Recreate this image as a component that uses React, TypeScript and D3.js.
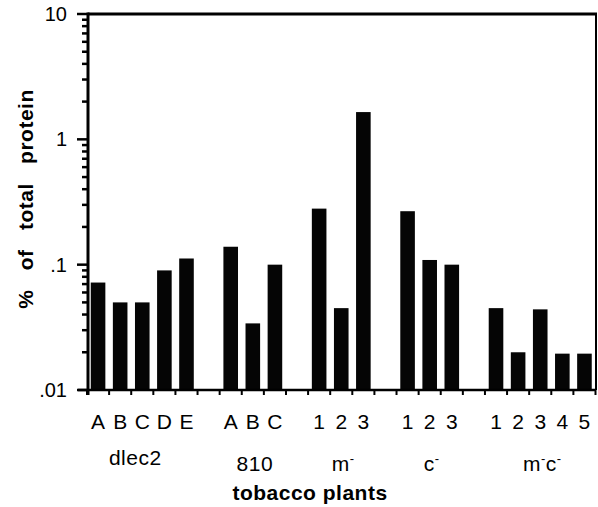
import React, { useEffect, useRef } from 'react';
import * as d3 from 'd3';

// groups of tobacco plants, bar labels and values (% of total protein)
const groupNames = ['dlec2', '810', 'm', 'c', 'mc'];
const dlec2Labels = ['A', 'B', 'C', 'D', 'E'];
const dlec2Values = [0.072, 0.05, 0.05, 0.09, 0.112];
const p810Labels = ['A', 'B', 'C'];
const p810Values = [0.139, 0.034, 0.1];
const mLabels = ['1', '2', '3'];
const mValues = [0.28, 0.045, 1.65];
const cLabels = ['1', '2', '3'];
const cValues = [0.267, 0.109, 0.1];
const mcLabels = ['1', '2', '3', '4', '5'];
const mcValues = [0.045, 0.02, 0.044, 0.0195, 0.0195];
const yTickValues = [0.01, 0.1, 1, 10];
const yTickLabels = ['.01', '.1', '1', '10'];

const W = 598;
const H = 507;
const FONT = "'Liberation Sans', Arial, Helvetica, sans-serif";

const App = () => {
    const ref = useRef<SVGSVGElement>(null);

    useEffect(() => {
        document.body.style.margin = '0';
        const margin = { top: 14, right: 2, bottom: 117, left: 87 };

        const groups = [
            { name: groupNames[0], labels: dlec2Labels, values: dlec2Values },
            { name: groupNames[1], labels: p810Labels, values: p810Values },
            { name: groupNames[2], labels: mLabels, values: mValues },
            { name: groupNames[3], labels: cLabels, values: cValues },
            { name: groupNames[4], labels: mcLabels, values: mcValues },
        ];

        // slots: one per bar, plus an empty slot between groups
        const slots: string[] = [];
        const bars: { id: string; label: string; value: number; group: string }[] = [];
        groups.forEach((g, gi) => {
            g.labels.forEach((l, i) => {
                const id = `${g.name}-${l}`;
                slots.push(id);
                bars.push({ id, label: l, value: g.values[i], group: g.name });
            });
            if (gi < groups.length - 1) slots.push(`gap${gi}`);
        });

        const svg = d3.select(ref.current);
        svg.selectAll('*').remove();

        const x = d3
            .scaleBand()
            .domain(slots)
            .range([margin.left, W - margin.right - 0.5])
            .paddingInner(0.34)
            .paddingOuter(0.17);

        const y = d3
            .scaleLog()
            .domain([0.01, 10])
            .range([390, margin.top]);

        const x0 = margin.left + 1;
        const x1 = W - margin.right;

        // bars
        svg.append('g')
            .selectAll('rect')
            .data(bars)
            .join('rect')
            .attr('x', (d) => x(d.id)!)
            .attr('width', x.bandwidth())
            .attr('y', (d) => y(d.value))
            .attr('height', (d) => y(0.01) - y(d.value))
            .attr('fill', '#050505');

        // frame top and right
        svg.append('line')
            .attr('x1', x0).attr('x2', x1 + 1)
            .attr('y1', y(10)).attr('y2', y(10))
            .attr('stroke', '#000').attr('stroke-width', 3);
        svg.append('line')
            .attr('x1', x1).attr('x2', x1)
            .attr('y1', y(10)).attr('y2', y(0.01))
            .attr('stroke', '#000').attr('stroke-width', 2);

        // x baseline and slot ticks
        svg.append('line')
            .attr('x1', 78).attr('x2', x1)
            .attr('y1', y(0.01)).attr('y2', y(0.01))
            .attr('stroke', '#000').attr('stroke-width', 2.5);
        const step = x.step();
        const start = x(slots[0])! - step * 0.17;
        svg.append('g')
            .selectAll('line')
            .data(d3.range(slots.length + 1))
            .join('line')
            .attr('x1', (k) => start + k * step)
            .attr('x2', (k) => start + k * step)
            .attr('y1', y(0.01))
            .attr('y2', y(0.01) + 5)
            .attr('stroke', '#000')
            .attr('stroke-width', 2);

        // y axis
        svg.append('line')
            .attr('x1', x0).attr('x2', x0)
            .attr('y1', y(10) - 1.5).attr('y2', y(0.01) + 5)
            .attr('stroke', '#000').attr('stroke-width', 3);

        const minor: number[] = [];
        [0.01, 0.1, 1].forEach((d) => {
            for (let m = 2; m <= 9; m++) minor.push(d * m);
        });
        svg.append('g')
            .selectAll('line')
            .data(minor)
            .join('line')
            .attr('x1', x0 - 6).attr('x2', x0)
            .attr('y1', (d) => y(d)).attr('y2', (d) => y(d))
            .attr('stroke', '#000').attr('stroke-width', 2.5);
        svg.append('g')
            .selectAll('line')
            .data(yTickValues)
            .join('line')
            .attr('x1', x0 - 11).attr('x2', x0)
            .attr('y1', (d) => y(d)).attr('y2', (d) => y(d))
            .attr('stroke', '#000').attr('stroke-width', 2.5);
        svg.append('g')
            .selectAll('text')
            .data(yTickValues)
            .join('text')
            .attr('x', 67)
            .attr('y', (d) => y(d) + 7)
            .attr('text-anchor', 'end')
            .style('font-family', FONT)
            .style('font-size', '20px')
            .text((d, i) => yTickLabels[i]);

        // y title
        svg.append('text')
            .attr('transform', 'translate(33,199) rotate(-90)')
            .attr('text-anchor', 'middle')
            .style('font-family', FONT)
            .style('font-size', '21px')
            .style('font-weight', 'bold')
            .style('letter-spacing', '0.5px')
            .style('word-spacing', '13px')
            .text('% of total protein');

        // bar labels
        svg.append('g')
            .selectAll('text')
            .data(bars)
            .join('text')
            .attr('x', (d) => x(d.id)! + x.bandwidth() / 2)
            .attr('y', 429)
            .attr('text-anchor', 'middle')
            .style('font-family', FONT)
            .style('font-size', '21px')
            .text((d) => d.label);

        // group labels
        const gLabel = svg.append('g')
            .selectAll('text')
            .data(groups)
            .join('text')
            .attr('x', (g) => {
                const ids = g.labels.map((l) => `${g.name}-${l}`);
                const a = x(ids[0])!;
                const b = x(ids[ids.length - 1])! + x.bandwidth();
                return (a + b) / 2 + (g.name === 'dlec2' ? -7 : 2);
            })
            .attr('y', (g) => (g.name === 'dlec2' ? 465 : 471))
            .attr('text-anchor', 'middle')
            .style('font-family', FONT)
            .style('font-size', '21px')
            .style('letter-spacing', '0.5px');
        gLabel.each(function (g) {
            const t = d3.select(this);
            if (g.name === 'dlec2' || g.name === '810') {
                t.text(g.name);
            } else {
                const parts = g.name === 'mc' ? ['m', 'c'] : [g.name];
                parts.forEach((p, i) => {
                    t.append('tspan').attr('dy', i > 0 ? 8 : 0).text(p);
                    t.append('tspan').attr('dy', -8).style('font-size', '13px').text('-');
                });
            }
        });

        // x title
        svg.append('text')
            .attr('x', 310)
            .attr('y', 500)
            .attr('text-anchor', 'middle')
            .style('font-family', FONT)
            .style('font-size', '21px')
            .style('font-weight', 'bold')
            .style('letter-spacing', '0.5px')
            .text('tobacco plants');
    }, []);

    return <svg ref={ref} width={W} height={H} style={{ display: 'block', background: '#fff' }} />;
};

export default App;
